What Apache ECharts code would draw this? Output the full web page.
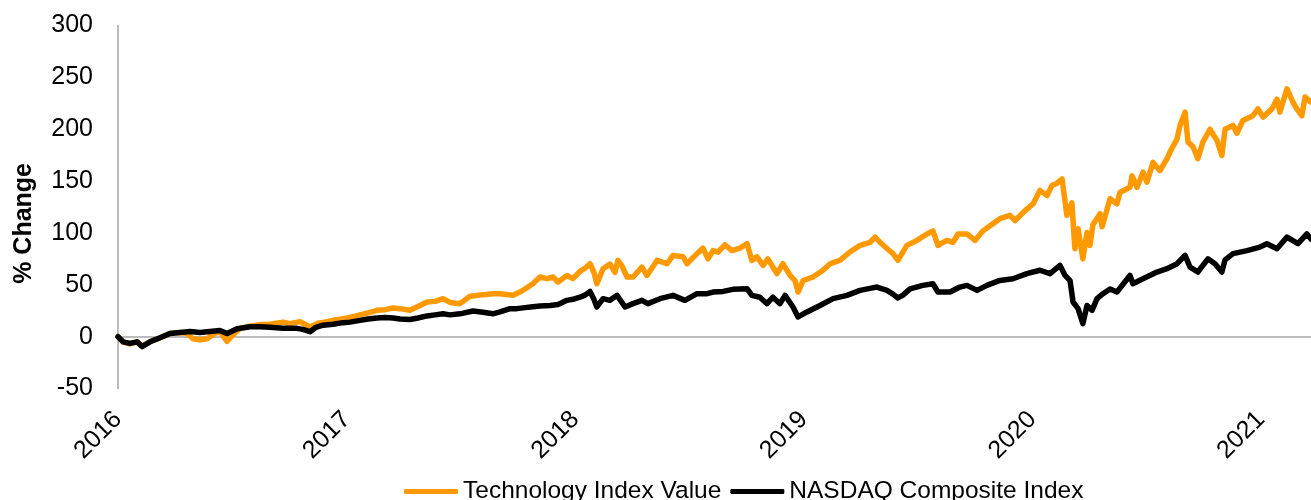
<!DOCTYPE html>
<html>
<head>
<meta charset="utf-8">
<script src="https://cdn.jsdelivr.net/npm/echarts@6/dist/echarts.min.js"></script>
<style>
html,body{margin:0;padding:0;background:#fff;}
#chart{width:1311px;height:500px;}
</style>
</head>
<body>
<div id="chart"></div>
<script>
// x = decimal year, values = % change
const techDates = [2016.000,2016.022,2016.052,2016.083,2016.105,2016.140,2016.184,2016.227,2016.271,2016.302,2016.328,2016.359,2016.389,2016.424,2016.446,2016.477,2016.503,2016.534,2016.577,2016.621,2016.665,2016.722,2016.752,2016.796,2016.840,2016.875,2016.914,2016.949,2016.984,2017.015,2017.059,2017.094,2017.133,2017.168,2017.203,2017.234,2017.277,2017.312,2017.352,2017.387,2017.422,2017.452,2017.496,2017.540,2017.597,2017.640,2017.671,2017.728,2017.767,2017.815,2017.846,2017.877,2017.903,2017.925,2017.964,2017.990,2018.021,2018.043,2018.065,2018.082,2018.095,2018.122,2018.152,2018.174,2018.187,2018.205,2018.227,2018.253,2018.292,2018.314,2018.358,2018.402,2018.428,2018.472,2018.489,2018.533,2018.559,2018.581,2018.603,2018.625,2018.655,2018.686,2018.721,2018.752,2018.773,2018.795,2018.822,2018.843,2018.883,2018.909,2018.940,2018.962,2018.975,2018.997,2019.040,2019.084,2019.115,2019.158,2019.202,2019.246,2019.290,2019.312,2019.338,2019.364,2019.390,2019.412,2019.451,2019.495,2019.539,2019.565,2019.587,2019.626,2019.653,2019.675,2019.714,2019.749,2019.784,2019.815,2019.858,2019.902,2019.924,2019.976,2020.003,2020.033,2020.064,2020.086,2020.108,2020.130,2020.151,2020.173,2020.186,2020.200,2020.221,2020.239,2020.252,2020.265,2020.296,2020.305,2020.340,2020.370,2020.383,2020.427,2020.436,2020.458,2020.484,2020.501,2020.528,2020.558,2020.589,2020.602,2020.633,2020.646,2020.668,2020.681,2020.703,2020.724,2020.746,2020.777,2020.808,2020.829,2020.843,2020.878,2020.895,2020.921,2020.965,2020.987,2021.009,2021.048,2021.070,2021.083,2021.114,2021.140,2021.157,2021.179,2021.193,2021.219];
const techValues = [0,-5,-7,-5,-9,-5,-1,3,4,3,-2,-3,-2,3,5,-4.5,2,8,10,11.6,12,14,12.5,14.5,9.3,13,14.5,16,17.3,18.5,21,23,25.4,26,27.6,27,25.4,29,33.4,34,36.6,33,31.8,39,40.5,41.4,41.4,40,44,51,57.5,56,57.5,52.7,59,56,63,66,70.3,62,51,65.5,70,62,73.5,68,57.5,57.5,67,59,73.5,70.3,78.3,77,70.3,80,85.4,75,83,81.5,88.6,83,85.4,89.6,73.5,77,68.7,75,60.7,70.3,59,54,43,54,57.5,64,70.3,73.5,81.6,88,91,96,90,85,80,73.5,88,92.8,99,102,88,92.8,91,99,99,92.8,102,107,113.7,117,112,123,128,141,136,145.8,148,152,117,129,84.8,104,75,100.5,88,108,118.5,106,133,128,139,144,155,144,158.6,149,168,160,171.5,178,190.7,203.6,216.5,187.6,183,171.5,187.6,200,189,174.7,200,203.6,196,208.4,213,219.6,211.6,219.6,229,216.5,239,226,219.6,213,231,226];

const nasdaqDates = [2016.000,2016.022,2016.052,2016.083,2016.105,2016.140,2016.184,2016.227,2016.271,2016.315,2016.359,2016.402,2016.446,2016.477,2016.521,2016.577,2016.621,2016.665,2016.722,2016.783,2016.809,2016.840,2016.866,2016.897,2016.941,2016.984,2017.015,2017.059,2017.094,2017.133,2017.168,2017.203,2017.234,2017.277,2017.312,2017.352,2017.387,2017.422,2017.452,2017.496,2017.553,2017.597,2017.640,2017.671,2017.715,2017.745,2017.780,2017.815,2017.846,2017.890,2017.925,2017.964,2017.990,2018.021,2018.043,2018.065,2018.082,2018.095,2018.122,2018.152,2018.183,2018.218,2018.253,2018.292,2018.318,2018.371,2018.428,2018.480,2018.533,2018.577,2018.603,2018.647,2018.690,2018.752,2018.773,2018.808,2018.839,2018.865,2018.896,2018.918,2018.953,2018.975,2019.014,2019.071,2019.128,2019.189,2019.246,2019.290,2019.320,2019.364,2019.390,2019.412,2019.434,2019.465,2019.521,2019.565,2019.587,2019.640,2019.683,2019.714,2019.758,2019.801,2019.858,2019.915,2019.976,2020.033,2020.077,2020.121,2020.143,2020.165,2020.178,2020.200,2020.221,2020.239,2020.261,2020.283,2020.309,2020.340,2020.370,2020.427,2020.440,2020.484,2020.545,2020.589,2020.633,2020.668,2020.690,2020.724,2020.768,2020.799,2020.829,2020.843,2020.878,2020.939,2020.996,2021.026,2021.070,2021.114,2021.162,2021.201,2021.219];
const nasdaqValues = [0,-5,-6.5,-5,-9.6,-5,-1,3,4,5,4,5,6,3,7.7,9.5,9.5,9,8,8,7,4.8,9,11,12,13.5,14,15.7,17,18,18.5,18,17,16.5,18,20,21,22,21,22,24.7,23.5,22,23.8,27,27,28,28.9,29.5,30,31,35,36,38,40,43.6,36,28.6,36.6,35,39.8,28.6,31.8,35,31.8,36.6,39.8,35,41.4,41.4,43,43.6,45.6,46.2,39.8,38,31.8,38,31.8,39.8,28.6,19,23.8,30,36.6,39.8,44.6,46.5,47.8,44.6,41,37.3,40,46,49.4,51,43,43,47.8,49.4,44.6,49.4,54.2,55.8,60.7,64,60.7,68.7,59,54,33.4,27,12.5,30,25.4,36.6,41.4,46,43,59,51,55.8,62.3,65.5,70.3,78.3,67,62.3,75,70.3,62.3,74,80,83,86.4,89.6,84.8,96,89.6,99,94];

const yearTicks = [2016, 2017, 2018, 2019, 2020, 2021];
const seriesNames = ['Technology Index Value', 'NASDAQ Composite Index'];

const FONT = '"Liberation Sans", Arial, sans-serif';
const xMin = 2016, xMax = 2021.219;

const chart = echarts.init(document.getElementById('chart'), null, {renderer: 'canvas'});
const pair = (xs, ys) => xs.map((x, i) => [x, ys[i]]);

chart.setOption({
  animation: false,
  backgroundColor: '#fff',
  grid: {left: 118, right: 0, top: 25.5, bottom: 111.5, containLabel: false},
  legend: {
    data: seriesNames,
    left: 399, top: 474,
    icon: 'roundRect', itemWidth: 54, itemHeight: 5, itemGap: 9,
    textStyle: {fontFamily: FONT, fontSize: 24.5, color: '#000'}
  },
  graphic: [{
    type: 'text', left: 12, top: 163, rotation: Math.PI / 2,
    style: {text: '% Change', font: 'bold 25px ' + FONT, fill: '#000'}
  }],
  xAxis: [{
    type: 'value', min: xMin, max: xMax, position: 'bottom',
    axisLine: {show: true, onZero: true, lineStyle: {color: '#a6a6a6', width: 1.5}},
    axisTick: {show: false}, axisLabel: {show: false}, splitLine: {show: false}
  }, {
    type: 'value', min: xMin, max: xMax, interval: 1, position: 'bottom',
    axisLine: {show: false, onZero: false}, axisTick: {show: false}, splitLine: {show: false},
    axisLabel: {
      rotate: 45, margin: 27, fontFamily: FONT, fontSize: 25, color: '#000',
      showMaxLabel: false,
      formatter: v => yearTicks.indexOf(Math.round(v * 1000) / 1000) >= 0 ? String(v) : ''
    }
  }],
  yAxis: {
    type: 'value', min: -50, max: 300, interval: 50,
    axisLine: {show: true, lineStyle: {color: '#a6a6a6', width: 1.5}},
    axisTick: {show: false}, splitLine: {show: false},
    axisLabel: {margin: 25, fontFamily: FONT, fontSize: 25, color: '#000'}
  },
  series: [{
    name: seriesNames[0], type: 'line', xAxisIndex: 0, showSymbol: false, symbol: 'none',
    data: pair(techDates, techValues),
    itemStyle: {color: '#ff9900'},
    lineStyle: {color: '#ff9900', width: 5.5, cap: 'round', join: 'round'}
  }, {
    name: seriesNames[1], type: 'line', xAxisIndex: 0, showSymbol: false, symbol: 'none',
    data: pair(nasdaqDates, nasdaqValues),
    itemStyle: {color: '#000'},
    lineStyle: {color: '#000', width: 5.5, cap: 'round', join: 'round'}
  }]
});
</script>
</body>
</html>
